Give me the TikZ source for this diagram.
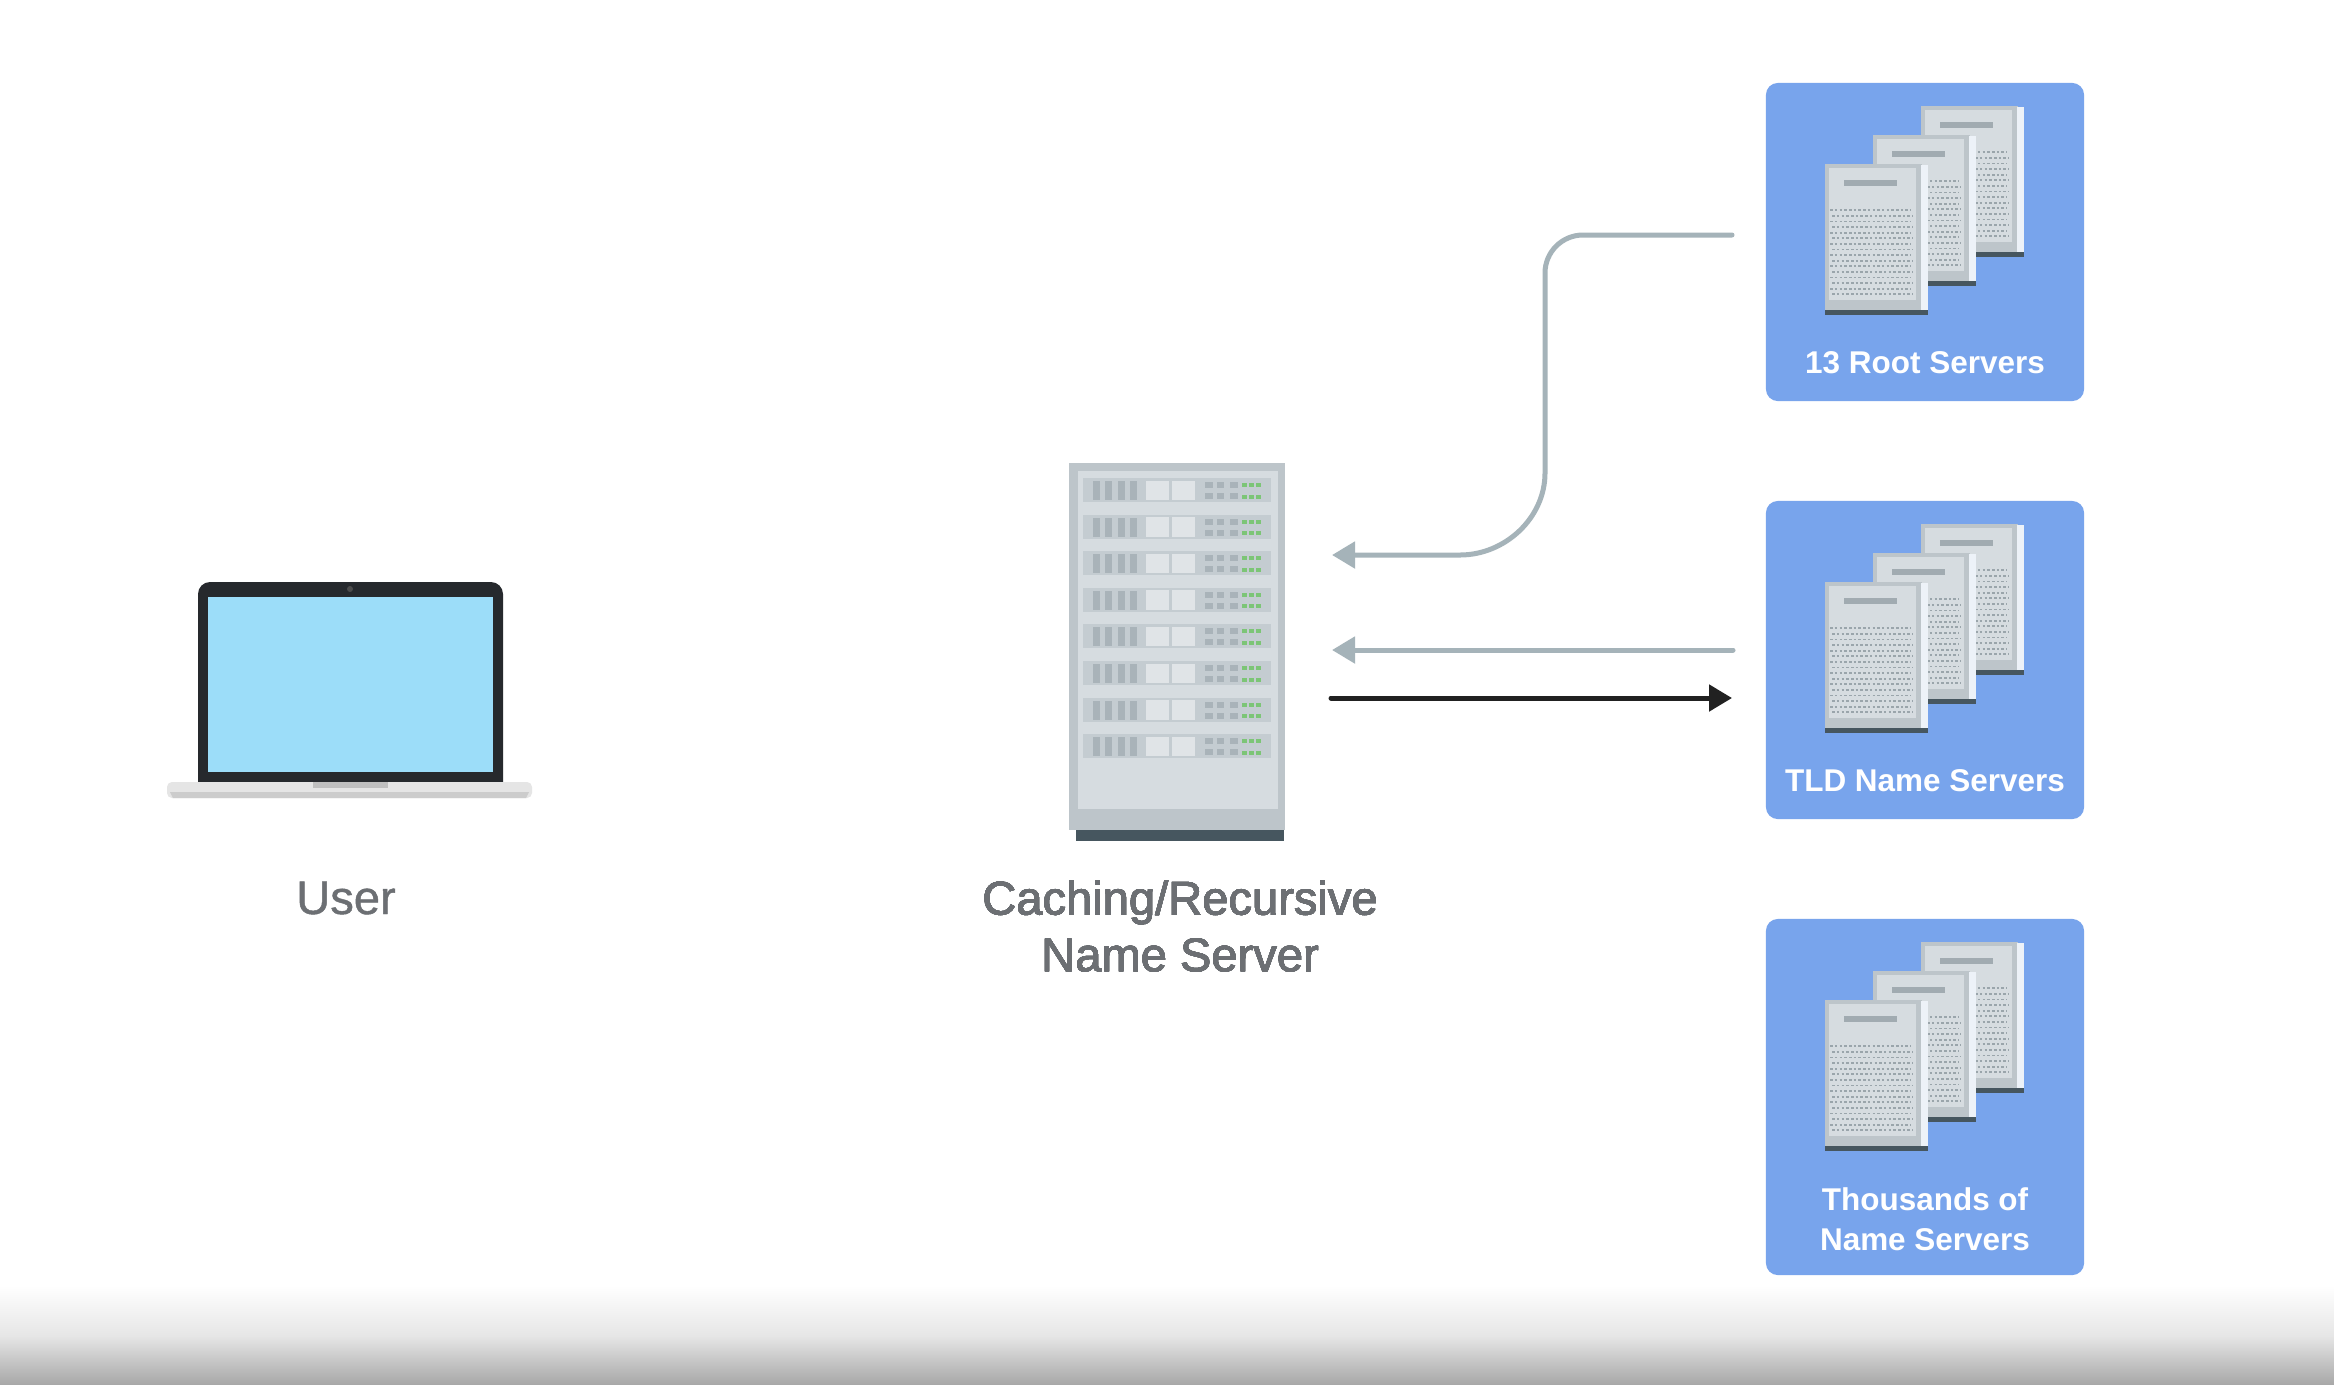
\documentclass[tikz,border=0pt]{standalone}
\usepackage{fontspec}
\setmainfont{Liberation Sans}
\newfontfamily\labelfont[FakeBold=1]{Liberation Sans}
\usetikzlibrary{arrows.meta}
\definecolor{boxblue}{HTML}{78A4EC}
\definecolor{pagerim}{HTML}{BDC5CA}
\definecolor{pagepanel}{HTML}{D6DCE0}
\definecolor{pagestrip}{HTML}{EDF2F8}
\definecolor{pagebase}{HTML}{46565F}
\definecolor{pagedot}{HTML}{9AA5AB}
\definecolor{rackshelf}{HTML}{C4CCD1}
\definecolor{rackvent}{HTML}{A9B3B9}
\definecolor{rackwhite}{HTML}{E0E4E7}
\definecolor{rackgreen}{HTML}{7CC576}
\definecolor{linkgrey}{HTML}{A5B3B9}
\definecolor{linkblack}{HTML}{212121}
\definecolor{labelgrey}{HTML}{6C6F73}
\definecolor{lidblack}{HTML}{26292D}
\definecolor{screenblue}{HTML}{9CDDF9}
\tikzset{
    serverbox/.style={fill=boxblue, rounded corners=0.12cm, minimum width=3.18cm, inner sep=0pt},
    boxlabel/.style={text=white, font=\bfseries\fontsize{8.95pt}{11.4pt}\selectfont, align=center, inner sep=0pt},
    greylabel/.style={text=labelgrey, font=\labelfont\fontsize{13.4pt}{16.1pt}\selectfont, align=center, inner sep=0pt},
    greylink/.style={draw=linkgrey, line width=0.05cm, line cap=round, -{Triangle[length=0.23cm,width=0.26cm]}},
    blacklink/.style={draw=linkblack, line width=0.05cm, line cap=round, -{Triangle[length=0.23cm,width=0.26cm]}}
}
\newcommand{\serverpage}[2]{
    \begin{scope}[shift={(#1,#2)}]
        \fill[pagebase] (0,146) rectangle (103,151);
        \fill[pagerim] (0,0) rectangle (97,146);
        \fill[pagestrip] (96,1) rectangle (103,146);
        \fill[pagepanel] (4,4) rectangle (91,136);
        \fill[pagedot!80!pagerim] (19,16) rectangle (72,22);
        \foreach \r in {0,2,...,14}{
            \draw[pagedot, line width=0.018cm, dash pattern=on 0.025cm off 0.022cm] (5,{46+5.6*\r}) -- (85,{46+5.6*\r});
            \draw[pagedot, line width=0.018cm, dash pattern=on 0.025cm off 0.022cm] (7,{51.6+5.6*\r}) -- (87,{51.6+5.6*\r});
        }
    \end{scope}
}
\newcommand{\serverstack}[1]{
    \begin{scope}[shift={(#1)}]
        \serverpage{156}{24}
        \serverpage{108}{53}
        \serverpage{60}{82}
    \end{scope}
}
\newcommand{\rackrow}[2]{
    \begin{scope}[shift={(#1,#2)}]
        \fill[rackshelf] (0,0) rectangle (188,24);
        \foreach \v in {10,22.3,34.6,46.9}
            \fill[rackvent] (\v,3) rectangle +(7,19);
        \fill[rackwhite] (63,2.5) rectangle (86,22);
        \fill[rackwhite] (89,2.5) rectangle (112,22);
        \foreach \s in {122,133.5,147}{
            \fill[rackvent] (\s,4) rectangle +(7.5,6);
            \fill[rackvent] (\s,15) rectangle +(7.5,6);
        }
        \foreach \g in {159,166,173}{
            \fill[rackgreen] (\g,5) rectangle +(5,4);
            \fill[rackgreen] (\g,16.5) rectangle +(5,4);
        }
    \end{scope}
}

\begin{document}
\begin{tikzpicture}[x=0.01cm, y=-0.01cm]
    \useasboundingbox (0,0) rectangle (2334,1384);
    \fill[white] (0,0) rectangle (2334,1384);
    \shade[top color=white, bottom color=black!10] (0,1285) rectangle (2334,1336);
    \shade[top color=black!10, bottom color=black!34] (0,1336) rectangle (2334,1384);

    \fill[lidblack, rounded corners=0.12cm] (198,782) -- (198,582) -- (503,582) -- (503,782);
    \fill[lidblack] (198,770) rectangle (503,782);
    \fill[screenblue] (208,597) rectangle (493,772);
    \fill[black!70] (350,589) circle (3);
    \fill[black!10, rounded corners=0.05cm] (167,782) rectangle (532,798);
    \fill[black!20] (170,792) -- (529,792) -- (526,798) -- (173,798) -- cycle;
    \fill[black!25] (313,782) rectangle (388,788);
    \node[greylabel] (user) at (346,898) {User};

    \fill[pagebase] (1076,830) rectangle (1284,841);
    \fill[pagerim] (1069,463) rectangle (1285,830);
    \fill[pagepanel] (1078,471) rectangle (1278,809);
    \foreach \k in {0,...,7}
        \rackrow{1083}{478+36.6*\k}
    \node[greylabel] (resolver) at (1180,926) {Caching/Recursive\\Name Server};

    \node[serverbox, minimum height=3.18cm] (rootbox) at (1925,242) {};
    \serverstack{rootbox.north west}
    \node[boxlabel] (rootlabel) at (1925,363) {13 Root Servers};

    \node[serverbox, minimum height=3.18cm] (tldbox) at (1925,660) {};
    \serverstack{tldbox.north west}
    \node[boxlabel] (tldlabel) at (1925,781) {TLD Name Servers};

    \node[serverbox, minimum height=3.56cm] (authbox) at (1925,1097) {};
    \serverstack{authbox.north west}
    \node[boxlabel] (authlabel) at (1925,1219) {Thousands of\\Name Servers};

    \coordinate (rootout) at (1732,235);
    \coordinate (rootin) at (1332,555);
    \coordinate (tldout) at (1733,650);
    \coordinate (tldin) at (1332,650);
    \coordinate (queryout) at (1331,698);
    \coordinate (queryin) at (1732,698);

    \draw[greylink] (rootout) -- (1583,235) .. controls (1562,235) and (1545,252) .. (1545,273) -- (1545,473) .. controls (1545,518) and (1505,555) .. (1460,555) -- (rootin);
    \draw[greylink] (tldout) -- (tldin);
    \draw[blacklink] (queryout) -- (queryin);
\end{tikzpicture}
\end{document}
